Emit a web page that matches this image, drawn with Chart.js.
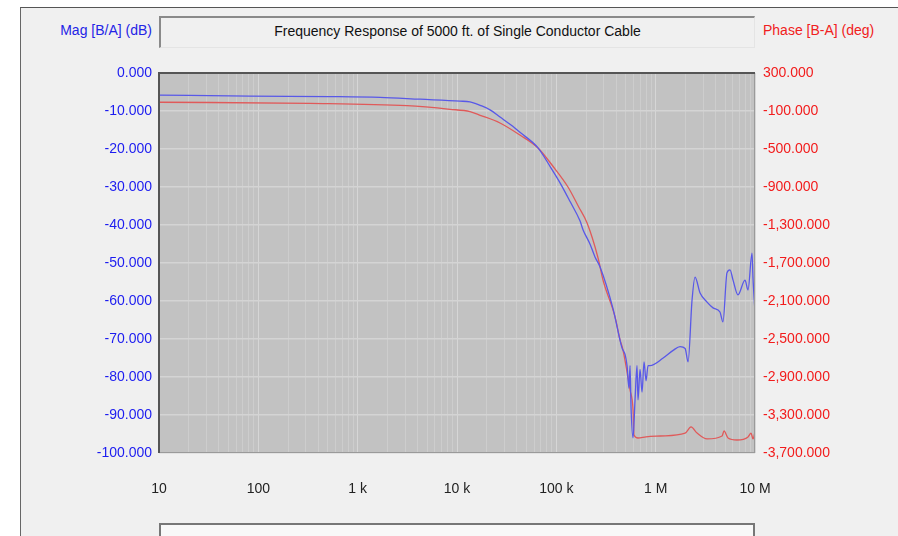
<!DOCTYPE html>
<html>
<head>
<meta charset="utf-8">
<script src="https://cdn.jsdelivr.net/npm/chart.js@4/dist/chart.umd.min.js"></script>
<style>
  body { margin: 0; background: #fff; font-family: "Liberation Sans", Arial, sans-serif; }
  #wrap { position: relative; width: 898px; height: 536px; overflow: hidden; }
  #frame { position: absolute; left: 20px; top: 7px; width: 878px; height: 529px; background: #f0f0f0;
           border-left: 1px solid #666; border-top: 1px solid #555; box-sizing: border-box; }
  #titleBox { position: absolute; left: 159px; top: 16px; width: 596px; height: 32px; box-sizing: border-box;
              border-top: 2px solid #8a8a8a; border-left: 2px solid #8a8a8a; border-right: 1px solid #e4e4e4;
              border-bottom: 1px solid #e4e4e4; background: #f0f0f0; text-align: center; line-height: 27px;
              font-size: 14px; color: #111; }
  #bottomBox { position: absolute; left: 159px; top: 523px; width: 596px; height: 30px; box-sizing: border-box;
               border: 2px solid #777; background: #f8f8f8; }
  .axTitle { position: absolute; top: 22px; font-size: 14px; }
  #magTitle { right: 746px; color: #2424e6; }
  #phaseTitle { left: 763px; color: #f02020; }
  canvas { position: absolute; left: 0; top: 0; }
</style>
</head>
<body>
<div id="wrap">
  <div id="frame"></div>
  <div id="titleBox">Frequency Response of 5000 ft. of Single Conductor Cable</div>
  <div class="axTitle" id="magTitle">Mag [B/A] (dB)</div>
  <div class="axTitle" id="phaseTitle">Phase [B-A] (deg)</div>
  <div id="bottomBox"></div>
  <canvas id="chart" width="898" height="536"></canvas>
</div>
<script>
// magnitude trace (blue, left axis)
const magFreq = [10, 82, 527, 1680, 4250, 10700, 13500, 15200, 17100, 21500, 27100, 35000, 43000, 65400,
  87000, 109000, 138000, 173000, 186000, 218000, 245000, 275000, 372000, 459000, 491000, 515000, 539000,
  552000, 565000, 592000, 620000, 649000, 664000, 696000, 729000, 764000, 800000, 838000, 878000, 1190000,
  1500000, 1760000, 1980000, 2120000, 2320000, 2490000, 2800000, 3290000, 3780000, 4440000, 4760000,
  5220000, 5600000, 6010000, 6740000, 7930000, 8510000, 9330000, 9550000, 10000000];
const magDb = [-5.8, -6.1, -6.2, -6.4, -6.9, -7.4, -7.6, -8.0, -8.5, -9.7, -11.6, -13.7, -15.6, -19.7,
  -24.7, -28.9, -33.9, -38.9, -41.3, -45.0, -48.4, -51.0, -62.0, -72.4, -74, -77, -83,
  -77, -88, -96, -86, -77, -86, -78, -84, -76, -81, -77, -77, -75,
  -73, -72, -72.5, -76, -60, -53.7, -57.9, -60.3, -61.8, -62.9, -65.5,
  -52.6, -51.8, -54.5, -58.4, -54.5, -57.1, -47.4, -54, -62.9];

// phase trace (red, right axis)
const phaseFreq = [10, 331, 3140, 8500, 13500, 17100, 27100, 43000, 65400, 92000, 131000, 168000, 204000,
  263000, 295000, 390000, 438000, 469000, 552000, 592000, 605000, 664000, 800000, 1110000, 1980000,
  2270000, 2610000, 3290000, 4660000, 4880000, 5350000, 6590000, 8510000, 9120000, 9550000, 10000000];
const phaseDeg = [-8, -19, -44, -82, -107, -145, -226, -353, -489, -679, -900, -1110, -1279,
  -1647, -1879, -2268, -2510, -2616, -3037, -3247, -3510, -3542, -3530, -3521, -3490,
  -3426, -3490, -3552, -3521, -3468, -3542, -3563, -3531, -3490, -3552, -3480];

const xTickValues = [10, 100, 1000, 10000, 100000, 1000000, 10000000];
const xTickLabels = ['10', '100', '1 k', '10 k', '100 k', '1 M', '10 M'];
const magTicks = [0, -10, -20, -30, -40, -50, -60, -70, -80, -90, -100];
const phaseTicks = [300, -100, -500, -900, -1300, -1700, -2100, -2500, -2900, -3300, -3700];

const font = { family: '"Liberation Sans", Arial, sans-serif', size: 14 };

// all log grid positions (1..9 per decade)
const gridFreqs = [];
for (let d = 10; d < 1e7; d *= 10) for (let m = 1; m < 10; m++) gridFreqs.push(m * d);
gridFreqs.push(1e7);

const plotBg = {
  id: 'plotBg',
  beforeDraw(c) {
    const a = c.chartArea, ctx = c.ctx;
    ctx.save();
    ctx.fillStyle = '#c2c2c2';
    ctx.fillRect(a.left, a.top, a.right - a.left, a.bottom - a.top);
    ctx.restore();
  },
  afterDraw(c) {
    const a = c.chartArea, ctx = c.ctx;
    ctx.save();
    ctx.strokeStyle = '#9a9a9a';
    ctx.lineWidth = 1;
    ctx.strokeRect(a.left + 0.5, a.top + 0.5, a.right - a.left - 1, a.bottom - a.top - 1);
    ctx.strokeStyle = '#555';
    ctx.lineWidth = 2;
    ctx.beginPath();
    ctx.moveTo(a.left, a.bottom);
    ctx.lineTo(a.left, a.top);
    ctx.lineTo(a.right, a.top);
    ctx.stroke();
    ctx.restore();
  }
};

const toPts = (xs, ys) => xs.map((x, i) => ({ x, y: ys[i] }));

new Chart(document.getElementById('chart'), {
  type: 'scatter',
  data: {
    datasets: [
      { label: 'Mag', data: toPts(magFreq, magDb), yAxisID: 'yMag', showLine: true,
        borderColor: '#5858e8', borderWidth: 1.3, pointRadius: 0, cubicInterpolationMode: 'monotone' },
      { label: 'Phase', data: toPts(phaseFreq, phaseDeg), yAxisID: 'yPhase', showLine: true,
        borderColor: '#e05a5a', borderWidth: 1.3, pointRadius: 0, cubicInterpolationMode: 'monotone' }
    ]
  },
  options: {
    responsive: false,
    animation: false,
    devicePixelRatio: 1,
    layout: { padding: { top: 73, left: 0, right: 0, bottom: 0 } },
    plugins: { legend: { display: false }, tooltip: { enabled: false } },
    scales: {
      x: {
        type: 'logarithmic', min: 10, max: 1e7,
        afterBuildTicks: s => { s.ticks = gridFreqs.map(v => ({ value: v })); },
        afterFit: s => { s.height = 83; },
        ticks: {
          autoSkip: false, maxRotation: 0, padding: 28, color: '#222', font,
          callback: v => { const i = xTickValues.indexOf(v); return i >= 0 ? xTickLabels[i] : ''; }
        },
        grid: {
          drawTicks: false,
          color: ctx => xTickValues.includes(ctx.tick && ctx.tick.value) ? '#d6d6d6' : '#cdcdcd',
          lineWidth: 1
        },
        border: { display: false }
      },
      yMag: {
        position: 'left', min: -100, max: 0,
        afterBuildTicks: s => { s.ticks = magTicks.map(v => ({ value: v })); },
        afterFit: s => { s.width = 159; },
        ticks: { padding: 7, color: '#1c1cf0', font, callback: v => v.toFixed(3) },
        grid: { drawTicks: false, color: '#d4d4d4', lineWidth: 1.5 },
        border: { display: false }
      },
      yPhase: {
        position: 'right', min: -3700, max: 300,
        afterBuildTicks: s => { s.ticks = phaseTicks.map(v => ({ value: v })); },
        afterFit: s => { s.width = 143; },
        ticks: {
          padding: 8, color: '#f21c1c', font,
          callback: v => v.toLocaleString('en-US', { minimumFractionDigits: 3, maximumFractionDigits: 3 })
        },
        grid: { display: false, drawTicks: false },
        border: { display: false }
      }
    }
  },
  plugins: [plotBg]
});
</script>
</body>
</html>
